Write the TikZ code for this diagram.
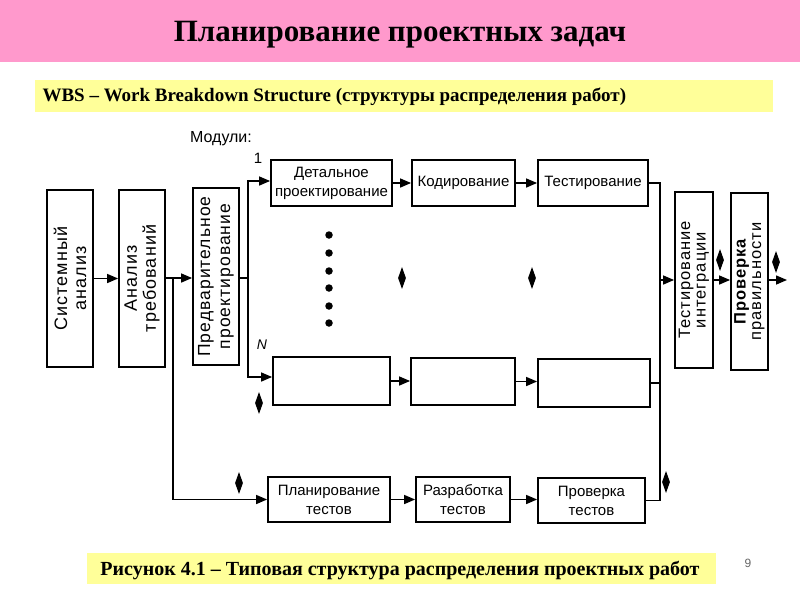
\documentclass[tikz,border=0pt]{standalone}
\usepackage{fontspec}
\setmainfont{Liberation Serif}
\newfontfamily\arialf{Liberation Sans}
\newfontfamily\arialw[LetterSpace=6]{Liberation Sans}
\usetikzlibrary{arrows.meta,shapes.geometric}
\definecolor{pinkband}{RGB}{255,153,204}
\definecolor{yellband}{RGB}{255,255,153}
\tikzset{
  box/.style={draw=black, line width=1.8pt, fill=white, inner sep=0pt, font=\arialf\fontsize{15}{19}\selectfont, align=center},
  conn/.style={draw=black, line width=1.5pt},
  arr/.style={conn, -{Triangle[length=11pt,width=9pt]}},
  diam/.style={diamond, fill=black, inner sep=0pt, minimum width=8pt, minimum height=22pt},
  dot/.style={circle, fill=black, inner sep=0pt, minimum size=7.5pt},
  vtext/.style={rotate=90, align=center, font=\arialw\fontsize{18}{19}\selectfont},
}
\begin{document}
\begin{tikzpicture}[x=1pt,y=-1pt]
\useasboundingbox (0,0) rectangle (800,600);
% bands
\fill[pinkband] (0,0) rectangle (800,62);
\node[font=\bfseries\fontsize{31}{34}\selectfont] (title) at (400,35) {Планирование проектных задач};
\fill[yellband] (35,80) rectangle (773,112);
\node[font=\bfseries\fontsize{19}{21}\selectfont, anchor=west] (wbs) at (39,97) {WBS – Work Breakdown Structure (структуры распределения работ)};
\fill[yellband] (87,553) rectangle (716,584);
\node[font=\bfseries\fontsize{20}{22}\selectfont] (cap) at (400,570) {Рисунок 4.1 – Типовая структура распределения проектных работ};
\node[font=\arialf\fontsize{12}{13}\selectfont, text=black!60] (pg) at (748,563) {9};

% vertical boxes
\node[box, minimum width=46pt, minimum height=177pt] (sys) at (70,278.5) {};
\node[vtext] at (sys.center) {Системный\\анализ};
\node[box, minimum width=46pt, minimum height=177pt] (ana) at (142,278.5) {};
\node[vtext] at (ana.center) {Анализ\\требований};
\node[box, minimum width=46pt, minimum height=177pt] (pre) at (216,276.5) {};
\node[vtext, font=\arialw\fontsize{17.5}{20}\selectfont] at (pre.center) {Предварительное\\проектирование};
\node[box, minimum width=38pt, minimum height=176pt] (ti) at (694,280) {};
\node[vtext, font=\arialw\fontsize{16.5}{15.5}\selectfont] at (ti.center) {Тестирование\\интеграции};
\node[box, minimum width=37pt, minimum height=177pt] (pp) at (749.5,281.5) {};
\node[vtext, font=\arialw\fontsize{16.5}{15.5}\selectfont] at (pp.center) {\textbf{Проверка}\\правильности};

% module 1 row
\node[box, minimum width=121pt, minimum height=46pt] (det) at (331.5,183) {Детальное\\проектирование};
\node[box, minimum width=103pt, minimum height=46pt] (kod) at (463.5,183) {Кодирование};
\node[box, minimum width=110pt, minimum height=46pt] (tst) at (593,183) {Тестирование};
% module N row
\node[box, minimum width=117pt, minimum height=48pt] (n1) at (331.5,381) {};
\node[box, minimum width=104pt, minimum height=47pt] (n2) at (463,381.5) {};
\node[box, minimum width=112pt, minimum height=48pt] (n3) at (594,383) {};
% tests row
\node[box, minimum width=122pt, minimum height=45pt] (plt) at (329,499.5) {Планирование\\тестов};
\node[box, minimum width=94pt, minimum height=45pt] (raz) at (463,499.5) {Разработка\\тестов};
\node[box, minimum width=107pt, minimum height=45pt] (prv) at (591.5,500.5) {Проверка\\тестов};

% labels
\node[font=\arialf\fontsize{16}{17}\selectfont] (mod) at (221,139) {Модули:};
\node[font=\arialf\fontsize{15}{16}\selectfont] (one) at (258,158) {1};
\node[font=\arialf\itshape\fontsize{14}{15}\selectfont] (enn) at (262,345) {N};

% coordinates
\coordinate (b1) at (173,278);
\coordinate (b2) at (248,278);
\coordinate (b3) at (660,280);

% connectors
\draw[arr] (sys.east) -- (ana.west);
\draw[arr] (ana.east |- b1) -- (pre.west |- b1);
\draw[arr] (b1) |- (plt.west);
\draw[conn] (pre.east |- b2) -- (b2);
\draw[arr] (b2) |- ([yshift=2pt]det.west);
\draw[arr] (b2) |- ([yshift=4pt]n1.west);
\draw[arr] (det) -- (kod);
\draw[arr] (kod) -- (tst);
\draw[arr] (n1.east) -- (n2.west |- n1.east);
\draw[arr] (n2.east) -- (n3.west |- n2.east);
\draw[arr] (plt) -- (raz);
\draw[arr] (raz.east) -- (prv.west |- raz.east);
\draw[conn] (tst.east) -| (b3);
\draw[conn] (n3.east) -- (n3.east -| b3);
\draw[conn] (prv.east) -| (b3);
\draw[arr] (b3) -- (ti.west |- b3);
\draw[arr] (ti.east |- b3) -- (pp.west |- b3);
\coordinate (outend) at (787,280);
\draw[arr] (pp.east |- b3) -- (outend);

% dots
\foreach \i/\yy in {1/235,2/253,3/271,4/288,5/306,6/323}
  \node[dot] (d\i) at (329,\yy) {};

% diamonds
\node[diam] (m1) at (402,278) {};
\node[diam] (m2) at (532,278) {};
\node[diam] (m3) at (259,403) {};
\node[diam] (m4) at (239,483) {};
\node[diam] (m5) at (666,482) {};
\node[diam] (m6) at (720,260) {};
\node[diam] (m7) at (776,262) {};
\end{tikzpicture}
\end{document}
